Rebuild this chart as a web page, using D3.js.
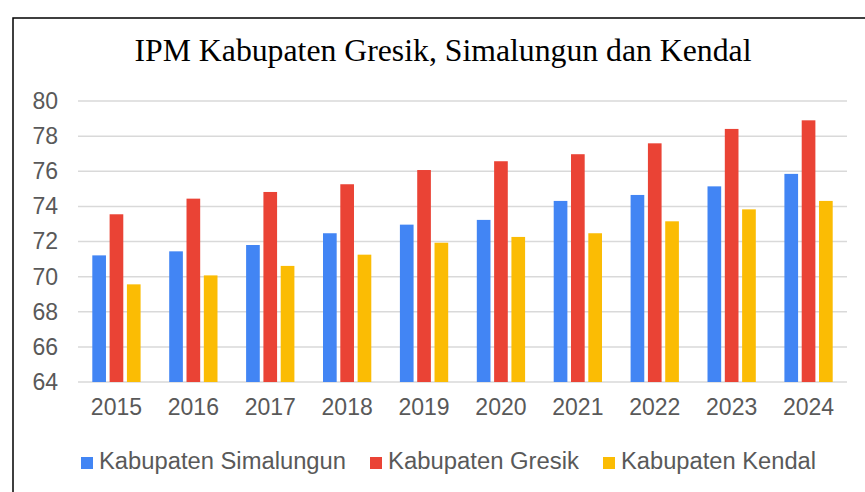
<!DOCTYPE html>
<html>
<head>
<meta charset="utf-8">
<script src="https://cdn.jsdelivr.net/npm/d3@7"></script>
<style>
  body { margin: 0; background: #fff; }
  svg { display: block; }
</style>
</head>
<body>
<svg id="chart"></svg>
<script>
// Données
const years = ["2015", "2016", "2017", "2018", "2019", "2020", "2021", "2022", "2023", "2024"];
const series = ["Kabupaten Simalungun", "Kabupaten Gresik", "Kabupaten Kendal"];
const simalungun = [71.21, 71.44, 71.80, 72.47, 72.96, 73.23, 74.31, 74.65, 75.14, 75.85];
const gresik = [73.55, 74.44, 74.82, 75.26, 76.07, 76.57, 76.97, 77.59, 78.41, 78.90];
const kendal = [69.56, 70.07, 70.61, 71.25, 71.93, 72.26, 72.47, 73.15, 73.83, 74.31];
const yTicks = [64, 66, 68, 70, 72, 74, 76, 78, 80];
const colors = ["#4285F4", "#EA4335", "#FBBC04"];

const width = 865, height = 492;
const svg = d3.select("#chart")
    .attr("width", width)
    .attr("height", height);

// cadre
svg.append("rect")
    .attr("x", 13).attr("y", 18)
    .attr("width", 900).attr("height", 600)
    .attr("fill", "#fff")
    .attr("stroke", "#000")
    .attr("stroke-width", 1.5);

// titre
svg.append("text")
    .attr("x", 443).attr("y", 61)
    .attr("text-anchor", "middle")
    .attr("font-family", "'Liberation Serif', 'Times New Roman', serif")
    .attr("font-size", 32)
    .attr("fill", "#000")
    .attr("textLength", 617)
    .attr("lengthAdjust", "spacingAndGlyphs")
    .text("IPM Kabupaten Gresik, Simalungun dan Kendal");

// échelles
const x0 = d3.scaleBand()
    .domain(years)
    .range([78, 847])
    .paddingInner(0.372)
    .paddingOuter(0.186);

const x1 = d3.scaleBand()
    .domain(series)
    .range([0, x0.bandwidth()])
    .paddingInner(0.21);

const y = d3.scaleLinear()
    .domain([64, 80])
    .range([382, 101]);

const font = "'Liberation Sans', Arial, sans-serif";

// grille
svg.append("g")
    .selectAll("line")
    .data(yTicks)
    .enter()
    .append("line")
    .attr("x1", 78).attr("x2", 847)
    .attr("y1", d => y(d)).attr("y2", d => y(d))
    .attr("stroke", "#d9d9d9")
    .attr("stroke-width", 1.5);

// axe y
const yAxis = svg.append("g")
    .attr("transform", "translate(58,0)")
    .call(d3.axisLeft(y).tickValues(yTicks).tickSize(0).tickPadding(0));
yAxis.select(".domain").remove();
yAxis.selectAll("text")
    .attr("font-family", font)
    .attr("font-size", 23)
    .attr("fill", "#595959");

// axe x
const xAxis = svg.append("g")
    .attr("transform", "translate(0,382)")
    .call(d3.axisBottom(x0).tickSize(0).tickPadding(17));
xAxis.select(".domain").remove();
xAxis.selectAll("text")
    .attr("font-family", font)
    .attr("font-size", 23)
    .attr("fill", "#595959");

// barres
const table = years.map((yr, i) => ({
    year: yr,
    values: [simalungun[i], gresik[i], kendal[i]]
}));

svg.append("g")
    .selectAll("g")
    .data(table)
    .enter()
    .append("g")
    .attr("transform", d => `translate(${x0(d.year)},0)`)
    .selectAll("rect")
    .data(d => d.values.map((v, j) => ({ key: series[j], value: v, color: colors[j] })))
    .enter()
    .append("rect")
    .attr("x", d => x1(d.key))
    .attr("y", d => y(d.value))
    .attr("width", x1.bandwidth())
    .attr("height", d => y(64) - y(d.value))
    .attr("fill", d => d.color);

// légende (largeurs mesurées sur l'image)
const legendX = [81, 370, 603];
const legendTextW = [247, 191, 195];
const legend = svg.append("g")
    .selectAll("g")
    .data(series)
    .enter()
    .append("g")
    .attr("transform", (d, i) => `translate(${legendX[i]},457)`);

legend.append("rect")
    .attr("width", 12).attr("height", 12)
    .attr("fill", (d, i) => colors[i]);

legend.append("text")
    .attr("x", 18).attr("y", 12)
    .attr("font-family", font)
    .attr("font-size", 23)
    .attr("fill", "#595959")
    .attr("textLength", (d, i) => legendTextW[i])
    .attr("lengthAdjust", "spacingAndGlyphs")
    .text(d => d);
</script>
</body>
</html>
